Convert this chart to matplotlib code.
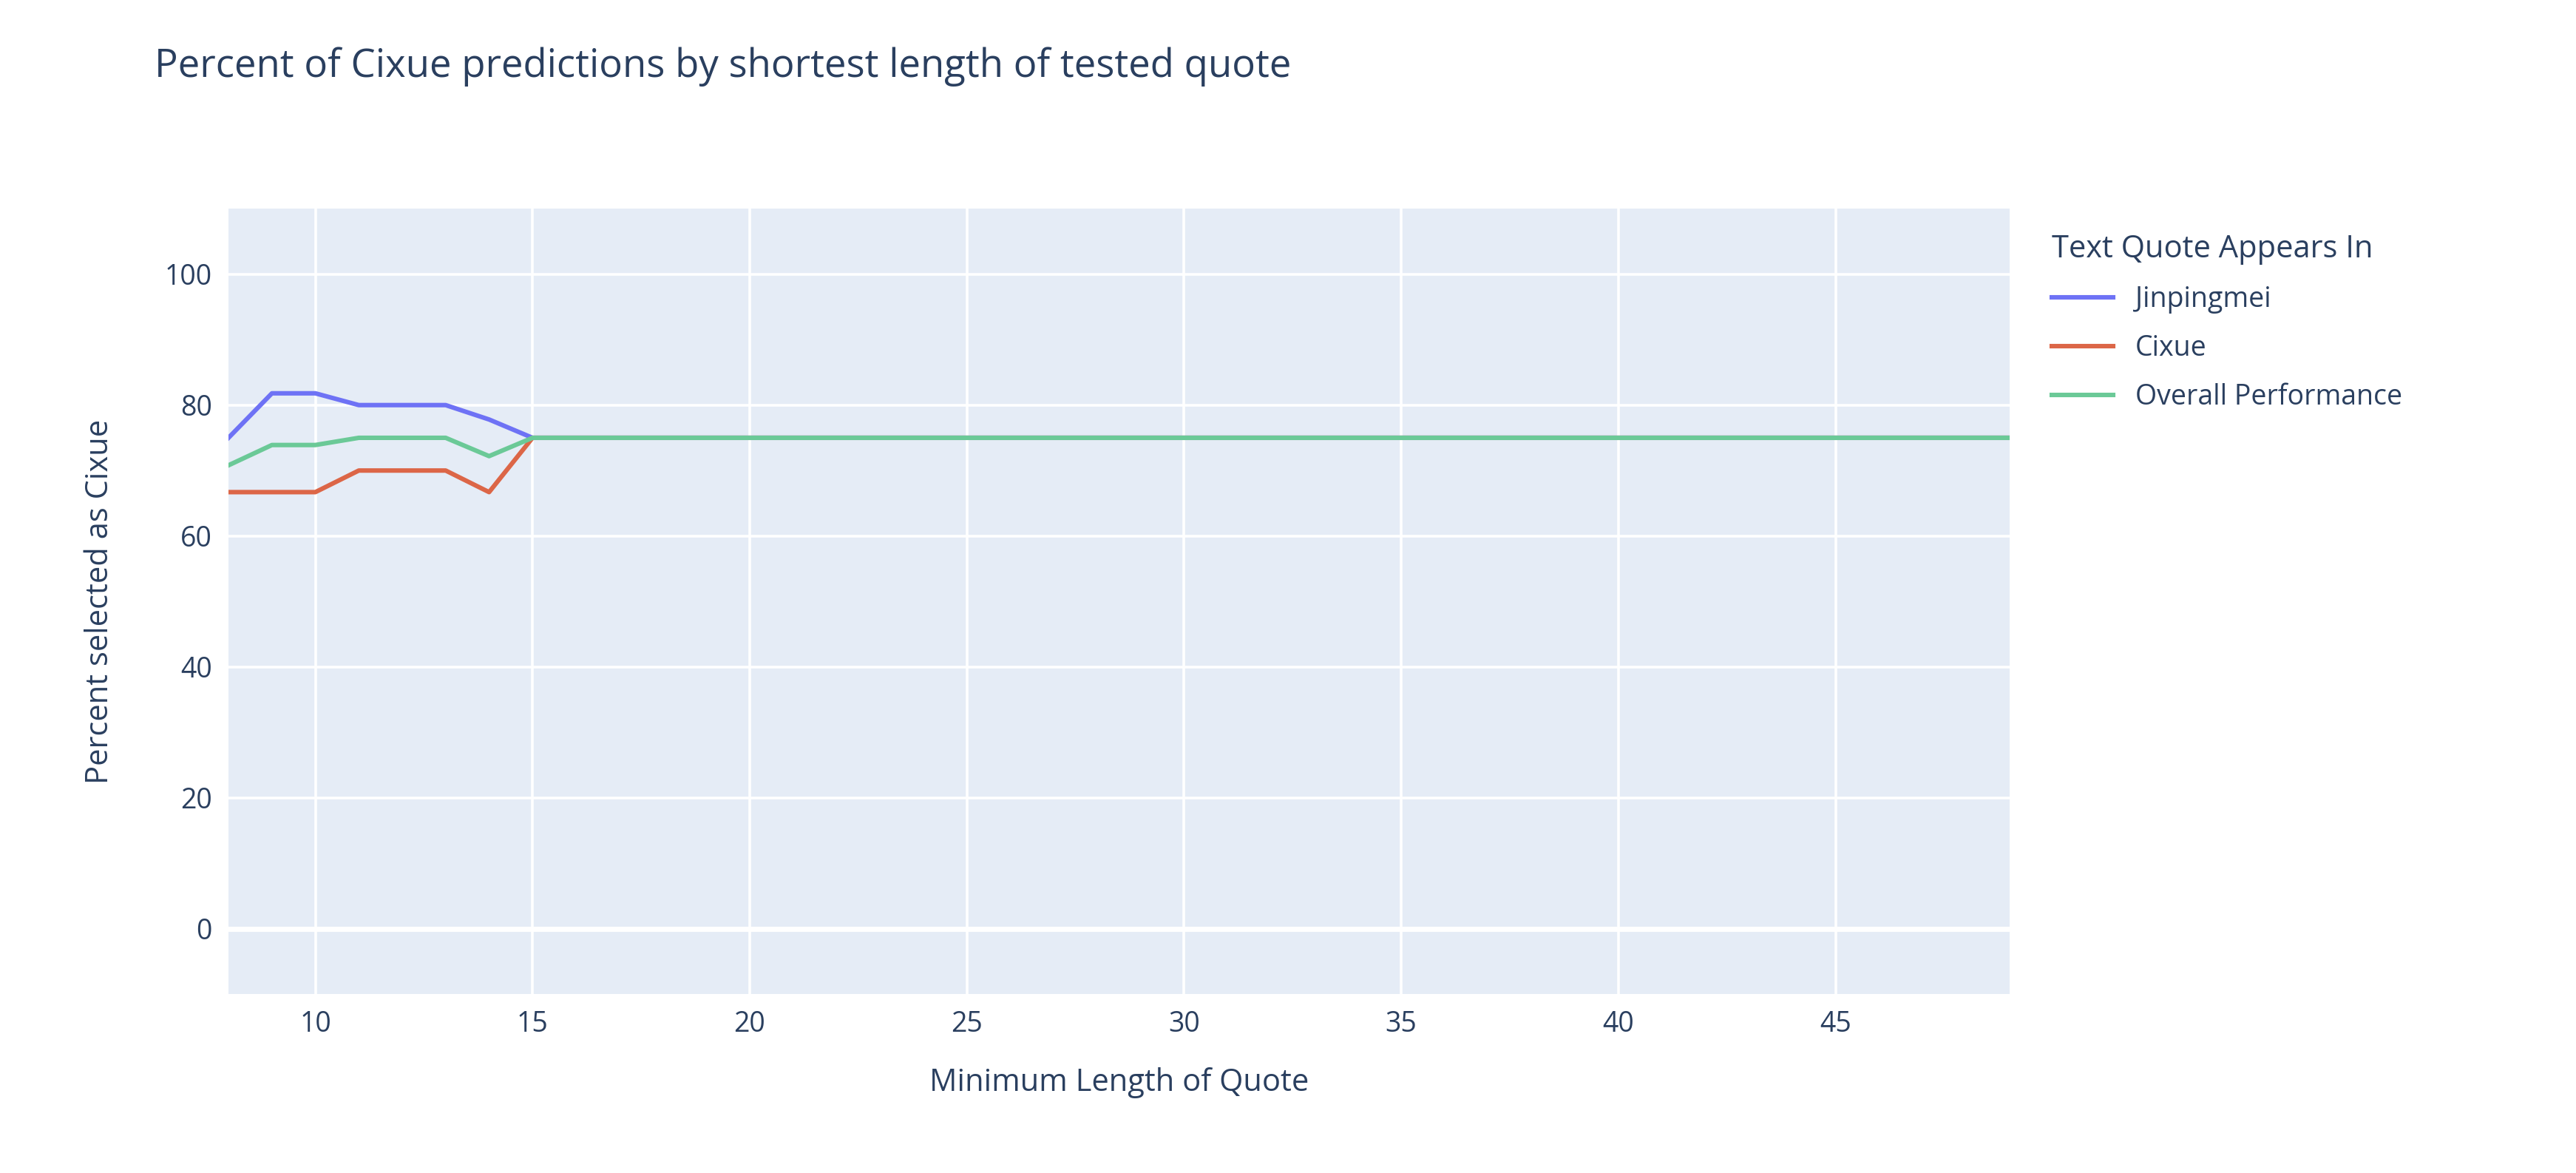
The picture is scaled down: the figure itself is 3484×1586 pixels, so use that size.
import numpy as np
import matplotlib.pyplot as plt

min_length = list(range(8, 50))
jinpingmei = [75, 81.8, 81.8, 80, 80, 80, 77.8] + [75] * 35
cixue = [66.7, 66.7, 66.7, 70, 70, 70, 66.7] + [75] * 35
overall = [70.8, 73.9, 73.9, 75, 75, 75, 72.2] + [75] * 35

series = [("Jinpingmei", jinpingmei),
          ("Cixue", cixue),
          ("Overall Performance", overall)]
colors = {"Jinpingmei": "#6e72f5", "Cixue": "#dc6647", "Overall Performance": "#6bc997"}

plt.rcParams['font.family'] = ['Open Sans', 'DejaVu Sans']
txt = '#2a3f5f'

fig = plt.figure(figsize=(17.42, 7.93), dpi=200)
ax = fig.add_axes([0.0887, 0.1526, 0.780 - 0.0887, 0.822 - 0.1526])
ax.set_facecolor('#e5ecf6')
for name, vals in series:
    ax.plot(min_length, vals, color=colors[name], lw=2.2, label=name)

ax.set_xlim(8, 49)
ax.set_ylim(-10, 110)
ax.set_xticks(range(10, 50, 5))
ax.set_yticks(range(0, 101, 20))
ax.grid(color='white', lw=1.3)
ax.axhline(0, color='white', lw=2.5, zorder=0.5)
ax.set_axisbelow(True)
for s in ax.spines.values():
    s.set_visible(False)
ax.tick_params(length=0, labelsize=13.5, labelcolor=txt, pad=8)
ax.set_xlabel('Minimum Length of Quote', fontsize=15, color=txt, labelpad=14)
ax.set_ylabel('Percent selected as Cixue', fontsize=15, color=txt, labelpad=24)

fig.text(0.060, 0.96, 'Percent of Cixue predictions by shortest length of tested quote',
         fontsize=19, color=txt, va='top')

leg = ax.legend(loc='upper left', bbox_to_anchor=(1.01, 1.0), frameon=False,
                title='Text Quote Appears In', fontsize=13.5, title_fontsize=15,
                handlelength=2.2, labelspacing=0.75, alignment='left')
for t in leg.get_texts():
    t.set_color(txt)
leg.get_title().set_color(txt)

fig.savefig('out.png', dpi=200)
